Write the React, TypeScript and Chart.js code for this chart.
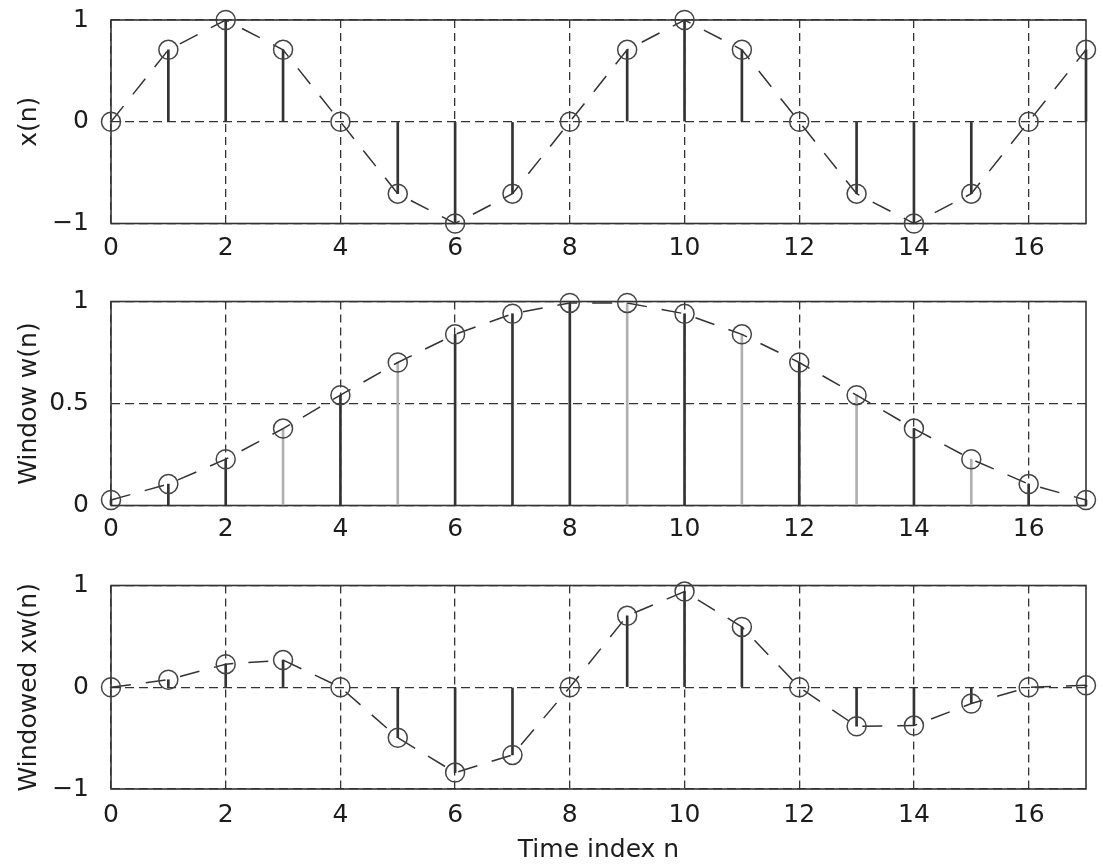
import React, { useEffect, useRef } from "react";
import { Chart, registerables } from "chart.js";

Chart.register(...registerables);

// ---- data ----
const timeIndex = [0, 1, 2, 3, 4, 5, 6, 7, 8, 9, 10, 11, 12, 13, 14, 15, 16, 17];
const signalValues = [0, 0.707, 1, 0.707, 0, -0.707, -1, -0.707, 0, 0.707, 1, 0.707, 0, -0.707, -1, -0.707, 0, 0.707];
const windowValues = [0.027, 0.105, 0.227, 0.377, 0.541, 0.701, 0.839, 0.94, 0.993, 0.993, 0.94, 0.839, 0.701, 0.541, 0.377, 0.227, 0.105, 0.027];
const windowedValues = [0, 0.074, 0.227, 0.267, 0, -0.496, -0.839, -0.665, 0, 0.702, 0.94, 0.593, 0, -0.383, -0.377, -0.16, 0, 0.019];
const windowLightStems = [3, 5, 9, 11, 13, 15];
const xTickValues = [0, 2, 4, 6, 8, 10, 12, 14, 16];
const signalYTicks = [-1, 0, 1];
const windowYTicks = [0, 0.5, 1];
const windowedYTicks = [-1, 0, 1];

const FONT = "'DejaVu Sans', 'Liberation Sans', Arial, sans-serif";
const INK = "#333333";
const TEXT = "#1c1c1c";

type PanelProps = {
  values: number[];
  lightStems: number[];
  yMin: number;
  yMax: number;
  yTicks: number[];
  yLabel: string;
  xTitle?: string;
  top: number;
  height: number;
  areaTop: number;
  areaBottom: number;
  xPad: number;
};

const fmt = (v: number) => (v < 0 ? "\u2212" + Math.abs(v) : String(v));

const boxPlugin = {
  id: "box",
  beforeDatasetsDraw(chart: any) {
    const { ctx, chartArea } = chart;
    ctx.save();
    ctx.strokeStyle = INK;
    ctx.lineWidth = 1.6;
    ctx.setLineDash([]);
    ctx.strokeRect(chartArea.left, chartArea.top, chartArea.right - chartArea.left, chartArea.bottom - chartArea.top);
    ctx.restore();
  },
};

function Panel(p: PanelProps) {
  const ref = useRef<HTMLCanvasElement | null>(null);
  useEffect(() => {
    if (!ref.current) return;
    const pts = timeIndex.map((n, i) => ({ x: n, y: p.values[i] }));
    const stemColors = timeIndex.map((n) => (p.lightStems.includes(n) ? "#b0b0b0" : INK));
    const chart = new Chart(ref.current, {
      type: "line",
      data: {
        datasets: [
          {
            type: "line",
            data: pts,
            borderColor: INK,
            borderWidth: 1.5,
            borderDash: [20, 15],
            pointStyle: "circle",
            pointRadius: 9.5,
            pointBorderWidth: 1.5,
            pointBorderColor: "#444444",
            pointBackgroundColor: "rgba(0,0,0,0)",
            fill: false,
            tension: 0,
            clip: false as any,
            order: 1,
          } as any,
          {
            type: "bar",
            data: pts,
            backgroundColor: stemColors,
            borderWidth: 0,
            barThickness: 2,
            clip: false as any,
            order: 2,
          } as any,
        ],
      },
      options: {
        animation: false,
        responsive: false,
        devicePixelRatio: 1,
        layout: { padding: { top: p.areaTop, right: 17, left: 0, bottom: 0 } },
        plugins: { legend: { display: false }, tooltip: { enabled: false } },
        events: [],
        scales: {
          x: {
            type: "linear",
            min: 0,
            max: 17,
            offset: false,
            afterBuildTicks: (s: any) => {
              s.ticks = xTickValues.map((v) => ({ value: v }));
            },
            afterFit: (s: any) => {
              s.height = p.height - p.areaBottom;
              s.paddingLeft = 0;
              s.paddingRight = 0;
              s.paddingTop = 0;
              s.paddingBottom = 0;
            },
            grid: { color: INK, lineWidth: 1.3, drawTicks: false, offset: false },
            border: { display: false, dash: [8, 5] },
            ticks: {
              padding: p.xPad,
              color: TEXT,
              font: { family: FONT, size: 25 },
              maxRotation: 0,
              autoSkip: false,
              callback: (v: any) => fmt(Number(v)),
            },
            title: p.xTitle
              ? { display: true, text: p.xTitle, color: TEXT, font: { family: FONT, size: 25 }, padding: { top: 0, bottom: 3 } }
              : { display: false },
          },
          y: {
            type: "linear",
            min: p.yMin,
            max: p.yMax,
            afterBuildTicks: (s: any) => {
              s.ticks = p.yTicks.map((v) => ({ value: v }));
            },
            afterFit: (s: any) => {
              s.width = 111;
              s.paddingLeft = 0;
              s.paddingRight = 0;
              s.paddingTop = 0;
              s.paddingBottom = 0;
            },
            grid: { color: INK, lineWidth: 1.3, drawTicks: false, offset: false },
            border: { display: false, dash: [9, 5] },
            ticks: {
              padding: 22,
              color: TEXT,
              font: { family: FONT, size: 25 },
              autoSkip: false,
              callback: (v: any) => fmt(Number(v)),
            },
            title: { display: true, text: p.yLabel, color: TEXT, font: { family: FONT, size: 25 }, padding: { top: 14, bottom: 0 } },
          },
        },
      } as any,
      plugins: [boxPlugin],
    });
    return () => chart.destroy();
  }, []);
  return (
    <div style={{ position: "absolute", left: 0, top: p.top, width: 1103, height: p.height }}>
      <canvas ref={ref} width={1103} height={p.height} style={{ display: "block" }} />
    </div>
  );
}

export default function App() {
  return (
    <div style={{ position: "absolute", left: 0, top: 0, width: 1103, height: 868, background: "#fff", overflow: "hidden" }}>
      <Panel values={signalValues} lightStems={[]} yMin={-1} yMax={1} yTicks={signalYTicks} yLabel="x(n)"
        top={0} height={270} areaTop={20} areaBottom={223.5} xPad={10} />
      <Panel values={windowValues} lightStems={windowLightStems} yMin={0} yMax={1} yTicks={windowYTicks} yLabel="Window w(n)"
        top={280} height={270} areaTop={21.5} areaBottom={225.5} xPad={9} />
      <Panel values={windowedValues} lightStems={[]} yMin={-1} yMax={1} yTicks={windowedYTicks} yLabel="Windowed xw(n)"
        xTitle="Time index n" top={565} height={303} areaTop={20.5} areaBottom={224} xPad={11} />
    </div>
  );
}
